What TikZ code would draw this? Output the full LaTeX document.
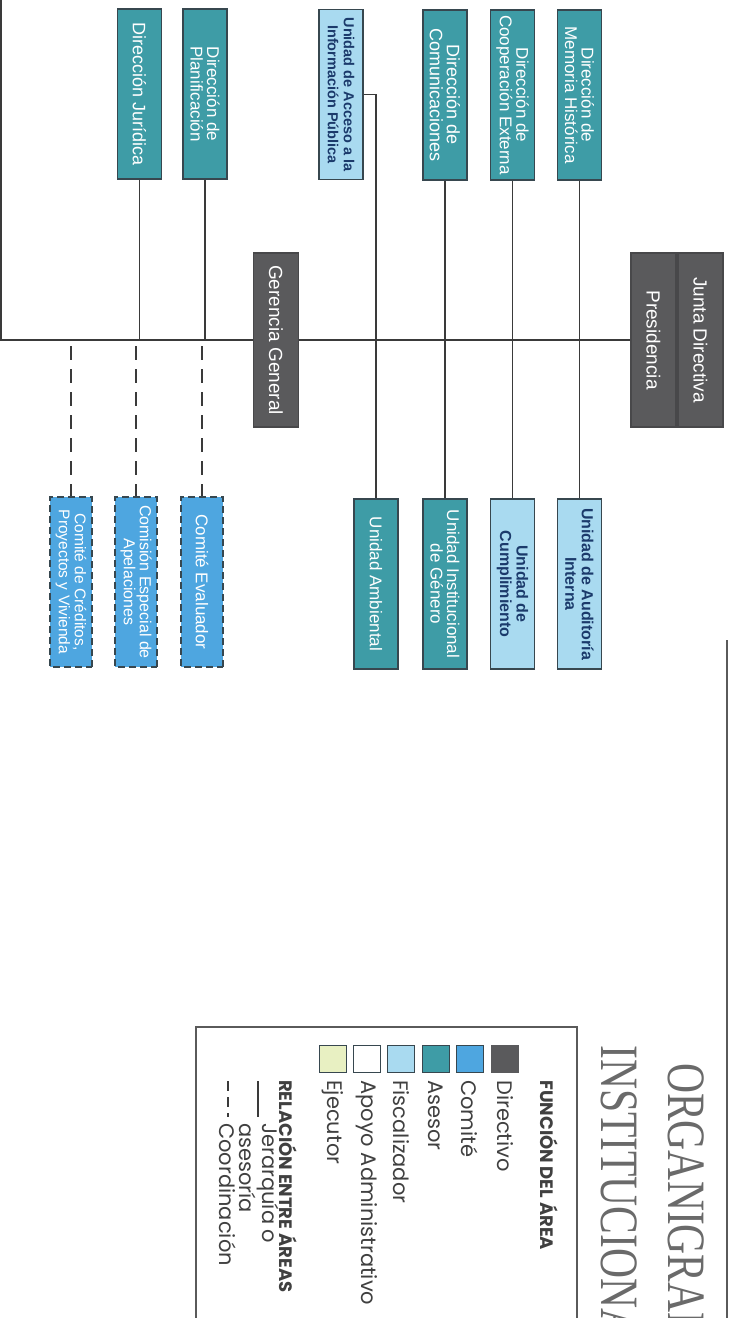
\documentclass[tikz,border=0pt]{standalone}
\usepackage{fontspec}
\setmainfont{Liberation Sans}
\newfontfamily\legfont{Poppins}
\newfontfamily\titlefont{Liberation Serif}
\definecolor{dirgray}{HTML}{5A5A5C}
\definecolor{asesorc}{HTML}{3E9CA6}
\definecolor{fiscc}{HTML}{A9DAF0}
\definecolor{comitec}{HTML}{4EA6E0}
\definecolor{ejecc}{HTML}{E8F0C2}
\definecolor{boxline}{HTML}{37474F}
\definecolor{navytext}{HTML}{1B3A6B}
\definecolor{linec}{HTML}{3A3A3A}
\definecolor{legline}{HTML}{5A5A5A}
\definecolor{titlegray}{HTML}{6A6A6A}
\definecolor{legtextc}{HTML}{404040}
\tikzset{
  orgbox/.style={rotate=-90, draw=boxline, line width=1.6pt, minimum width=170pt,
    minimum height=44pt, inner sep=1pt, align=center,
    font=\fontsize{17}{16.5}\selectfont},
  dirbox/.style={orgbox, fill=dirgray, draw=dirgray!80!black, text=white,
    minimum height=45pt, minimum width=174pt, font=\fontsize{19}{19}\selectfont},
  asebox/.style={orgbox, fill=asesorc, text=white},
  fisbox/.style={orgbox, fill=fiscc, text=navytext,
    font=\bfseries\fontsize{16}{16.5}\selectfont},
  combox/.style={orgbox, fill=comitec, text=white, minimum height=42pt,
    dash pattern=on 7pt off 4pt},
  conn/.style={draw=linec, line width=1.4pt},
  coordline/.style={conn, dash pattern=on 14pt off 9pt},
  swatch/.style={draw=boxline, line width=1.4pt, minimum size=27pt, inner sep=0pt},
  legtext/.style={rotate=-90, anchor=west, inner sep=0pt, text=legtextc,
    font=\legfont\fontsize{21}{21}\selectfont},
  leghead/.style={rotate=-90, anchor=west, inner sep=0pt, text=legtextc,
    font=\legfont\bfseries\fontsize{18}{18}\selectfont},
  titletext/.style={rotate=-90, anchor=west, inner sep=0pt, text=titlegray,
    font=\titlefont\fontsize{54}{54}\selectfont}
}
\begin{document}
\begin{tikzpicture}[x=1pt,y=-1pt]
\path[use as bounding box, fill=white] (0,0) rectangle (730,1318);
\clip (0,0) rectangle (730,1318);

% top row
\node[asebox, font=\fontsize{18}{17}\selectfont] (juridica) at (139.5,94) {Dirección Jurídica};
\node[asebox] (planif) at (205,94) {Dirección de\\Planificación};
\node[fisbox, font=\bfseries\fontsize{14.5}{16}\selectfont] (acceso) at (341,94.5) {Unidad de Acceso a la\\Información Pública};
\node[asebox, font=\fontsize{18}{17}\selectfont] (comunic) at (445,95) {Dirección de\\Comunicaciones};
\node[asebox] (coop) at (512.5,95) {Dirección de\\Cooperación Externa};
\node[asebox] (memoria) at (579.5,95) {Dirección de\\Memoria Histórica};

% directive
\node[dirbox] (ger) at (276,340) {Gerencia General};
\node[dirbox] (pres) at (653.5,340) {Presidencia};
\node[dirbox] (junta) at (700.5,340) {Junta Directiva};

% bottom row
\node[asebox] (ambiental) at (376,584) {Unidad Ambiental};
\node[asebox] (genero) at (445,584) {Unidad Institucional\\de Género};
\node[fisbox] (cumpl) at (512.5,584) {Unidad de\\Cumplimiento};
\node[fisbox] (audit) at (579.5,584) {Unidad de Auditoría\\Interna};

% committees
\node[combox, font=\fontsize{15.5}{16}\selectfont] (creditos) at (71,582) {Comité de Créditos,\\Proyectos y Vivienda};
\node[combox, font=\fontsize{16}{16}\selectfont] (apelac) at (136,582) {Comisión Especial de\\Apelaciones};
\node[combox] (evaluador) at (202,582) {Comité Evaluador};

% connectors
\coordinate (corner) at (1,340);
\coordinate (topleft) at (1,0);
\draw[conn] (pres.south) -- (ger.north);
\draw[conn] (ger.south) -- (corner) -- (topleft);
\draw[conn] (juridica.east) -- (juridica.east |- ger.center);
\draw[conn] (planif.east) -- (planif.east |- ger.center);
\draw[conn] (memoria.east) -- (audit.west);
\draw[conn] (coop.east) -- (cumpl.west);
\draw[conn] (comunic.east) -- (genero.west);
\draw[conn] (acceso.north) -- (acceso.north -| ambiental.west) -- (ambiental.west);
\coordinate (dc1) at (71,346);
\coordinate (dc2) at (136,346);
\coordinate (dc3) at (202,346);
\draw[coordline] (dc1) -- (creditos.west);
\draw[coordline] (dc2) -- (apelac.west);
\draw[coordline] (dc3) -- (evaluador.west);

% right border
\draw[draw=legline, line width=2pt] (727,640) -- (727,1320);

% title
\node[titletext] (t1) at (686,1063) {\scalebox{0.77}[1]{ORGANIGRAMA}};
\node[titletext] (t2) at (619,1045) {\scalebox{0.77}[1]{INSTITUCIONAL}};

% legend frame
\draw[draw=legline, line width=2.2pt] (196,1325) -- (196,1027) -- (577,1027) -- (577,1325);
\node[leghead] (h1) at (549,1080) {FUNCIÓN DEL ÁREA};
\node[swatch, fill=dirgray, draw=dirgray] (s1) at (505,1059) {};
\node[swatch, fill=comitec] (s2) at (470,1059) {};
\node[swatch, fill=asesorc] (s3) at (436,1059) {};
\node[swatch, fill=fiscc] (s4) at (401,1059) {};
\node[swatch, fill=white] (s5) at (367,1059) {};
\node[swatch, fill=ejecc] (s6) at (333,1059) {};
\node[legtext] (l1) at (505,1080) {Directivo};
\node[legtext] (l2) at (470,1080) {Comité};
\node[legtext] (l3) at (436,1080) {Asesor};
\node[legtext] (l4) at (401,1080) {Fiscalizador};
\node[legtext] (l5) at (367,1080) {Apoyo Administrativo};
\node[legtext] (l6) at (333,1080) {Ejecutor};
\node[leghead] (h2) at (288,1080) {RELACIÓN ENTRE ÁREAS};
\coordinate (sa) at (258,1081);
\coordinate (sb) at (258,1117);
\draw[conn, line width=1.6pt] (sa) -- (sb);
\node[legtext] (r1) at (268,1123) {Jerarquía o};
\node[legtext] (r2) at (248,1123) {asesoría};
\coordinate (da) at (228,1081);
\coordinate (db) at (228,1117);
\draw[conn, line width=1.6pt, dash pattern=on 10pt off 6pt] (da) -- (db);
\node[legtext] (r3) at (228,1123) {Coordinación};
\end{tikzpicture}
\end{document}
